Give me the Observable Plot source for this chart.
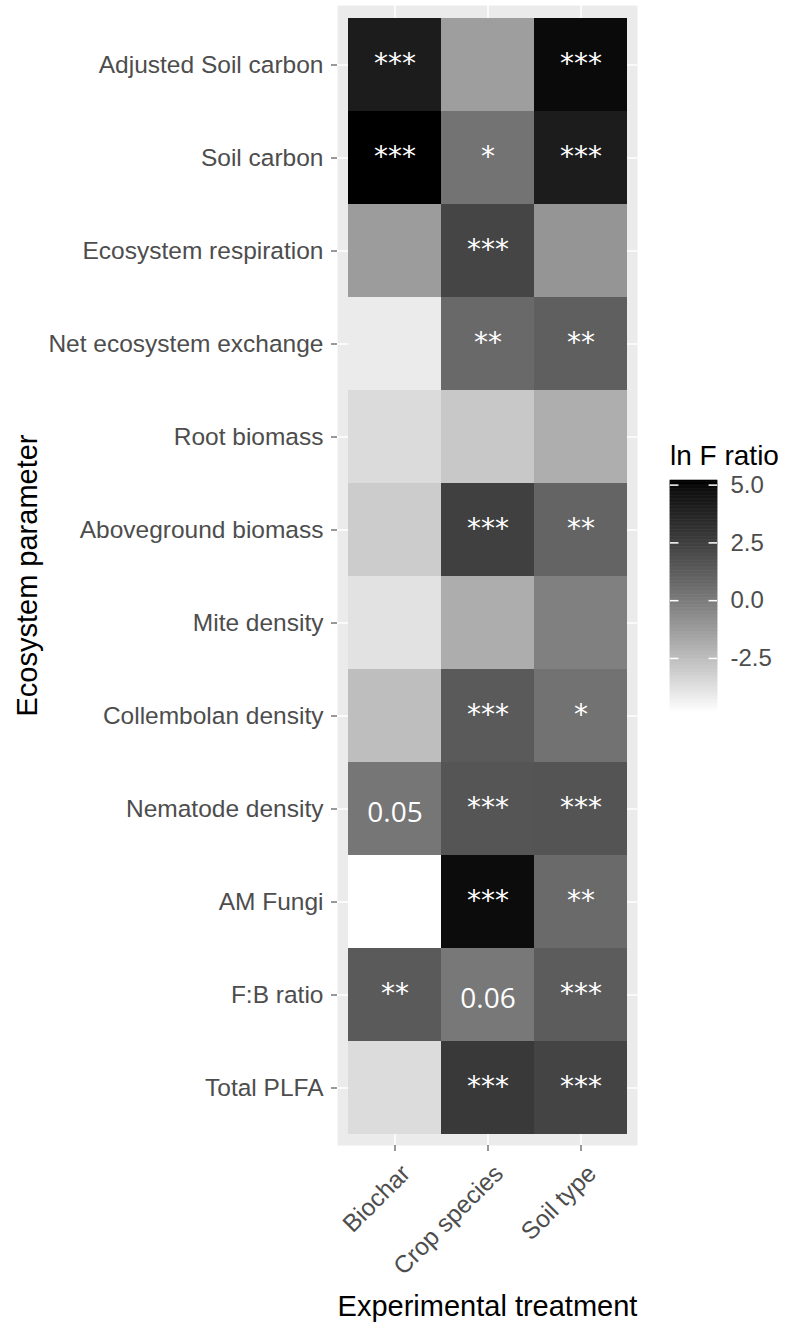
<!DOCTYPE html>
<html>
<head>
<meta charset="utf-8">
<script src="https://cdn.jsdelivr.net/npm/d3@7"></script>
<script src="https://cdn.jsdelivr.net/npm/@observablehq/plot@0.6"></script>
<style>
  html, body { margin: 0; padding: 0; background: white; }
  #wrap { position: relative; width: 787px; height: 1327px; font-family: "Liberation Sans", Arial, sans-serif; }
  #main { position: absolute; left: 0; top: 0; }
  #legend { position: absolute; left: 660px; top: 430px; }
  #legendTitle { position: absolute; left: 670px; top: 442px; font-size: 28px; color: #000; white-space: nowrap; line-height: 1; }
</style>
</head>
<body>
<div id="wrap">
  <div id="main"></div>
  <div id="legendTitle">ln F ratio</div>
  <div id="legend"></div>
</div>
<script>
// ---- Data ----
const parameters = [
  "Adjusted Soil carbon", "Soil carbon", "Ecosystem respiration", "Net ecosystem exchange",
  "Root biomass", "Aboveground biomass", "Mite density", "Collembolan density",
  "Nematode density", "AM Fungi", "F:B ratio", "Total PLFA"
];
const treatments = ["Biochar", "Crop species", "Soil type"];

// ln F ratio per treatment, in the order of `parameters`
const biocharF = [4.17, 5.20, -1.26, -4.14, -3.56, -3.03, -3.83, -2.53, 0.20, -4.84, 1.36, -3.60];
const cropF    = [-1.34, 0.32, 2.28, 0.73, -2.89, 2.48, -1.89, 1.36, 1.57, 4.86, 0.12, 2.81];
const soilF    = [4.93, 4.17, -0.99, 1.15, -1.93, 0.94, -0.18, 0.36, 1.61, 0.68, 1.28, 2.32];

// significance labels per treatment
const biocharSig = ["***", "***", "", "", "", "", "", "", "0.05", "", "**", ""];
const cropSig    = ["", "*", "***", "**", "", "***", "", "***", "***", "***", "0.06", "***"];
const soilSig    = ["***", "***", "", "**", "", "**", "", "*", "***", "**", "***", "***"];

const legendTicks = [-2.5, 0, 2.5, 5];

// ---- Build table ----
const valueArrays = [biocharF, cropF, soilF];
const sigArrays = [biocharSig, cropSig, soilSig];
const cells = [];
treatments.forEach((t, j) => {
  parameters.forEach((p, i) => {
    cells.push({treatment: t, parameter: p, value: valueArrays[j][i], sig: sigArrays[j][i]});
  });
});
const starCells = cells.filter(d => d.sig.startsWith("*"));
const numCells = cells.filter(d => d.sig !== "" && !d.sig.startsWith("*"));
const vmin = d3.min(cells, d => d.value);
const vmax = d3.max(cells, d => d.value);

const colorScale = {type: "linear", domain: [vmin, vmax], range: ["white", "black"], interpolate: "lab"};

const main = Plot.plot({
  width: 787,
  height: 1327,
  marginLeft: 337,
  marginRight: 150,
  marginTop: 5,
  marginBottom: 182,
  style: {fontFamily: "'Liberation Sans', Arial, sans-serif", background: "white", overflow: "visible"},
  x: {domain: treatments, padding: 0, inset: 10},
  y: {domain: parameters, padding: 0, insetTop: 9, insetBottom: 8},
  color: colorScale,
  marks: [
    Plot.frame({fill: "#EBEBEB", stroke: "none"}),
    Plot.gridX({stroke: "white", strokeOpacity: 1, strokeWidth: 1.5}),
    Plot.gridY({stroke: "white", strokeOpacity: 1, strokeWidth: 1.5}),
    Plot.cell(cells, {x: "treatment", y: "parameter", fill: "value"}),
    Plot.text(starCells, {x: "treatment", y: "parameter", text: "sig", fill: "white",
      fontFamily: "'DejaVu Sans', sans-serif", fontSize: 28, dy: -1}),
    Plot.text(numCells, {x: "treatment", y: "parameter", text: "sig", fill: "white",
      fontFamily: "'Open Sans', sans-serif", fontSize: 28, dy: 4}),
    // x ticks only
    Plot.axisX({tickSize: 6, tickFormat: () => "", color: "#333", label: null}),
    // x tick labels, rotated
    Plot.axisX({tickRotate: -45, tickSize: 0, tickPadding: 10, fontSize: 24.5, fill: "#4D4D4D", label: null, dx: 11, dy: 14}),
    Plot.axisX({ticks: [], label: "Experimental treatment", labelAnchor: "center", labelArrow: "none", labelOffset: 170, fontSize: 29, fill: "black"}),
    Plot.axisY({tickSize: 6, tickPadding: 8, fontSize: 24.5, color: "#333", fill: "#4D4D4D", label: null}),
    Plot.axisY({ticks: [], label: "Ecosystem parameter", labelAnchor: "center", labelArrow: "none", labelOffset: 321, fontSize: 29, fill: "black"})
  ]
});
document.getElementById("main").appendChild(main);

// ---- Vertical colour-bar legend ----
const nbin = 300;
const step = (vmax - vmin) / nbin;
const bins = d3.range(nbin).map(i => ({v0: vmin + i * step, v1: vmin + (i + 1) * step, v: vmin + (i + 0.5) * step}));
const fmt = d3.format(".1f");
const legend = Plot.plot({
  width: 127,
  height: 300,
  marginLeft: 10,
  marginRight: 70,
  marginTop: 50,
  marginBottom: 18,
  style: {fontFamily: "'Liberation Sans', Arial, sans-serif", background: "transparent", overflow: "visible"},
  x: {domain: [0, 1], axis: null},
  y: {domain: [vmin, vmax]},
  color: colorScale,
  marks: [
    Plot.rect(bins, {x1: 0, x2: 1, y1: "v0", y2: "v1", fill: "v", inset: -0.3}),
    Plot.ruleY(legendTicks, {x1: 0, x2: 0.18, stroke: "white", strokeWidth: 1.5}),
    Plot.ruleY(legendTicks, {x1: 0.82, x2: 1, stroke: "white", strokeWidth: 1.5}),
    Plot.axisY({anchor: "right", ticks: legendTicks, tickFormat: d => fmt(d).replace("\u2212", "-"), tickSize: 0, tickPadding: 13, fontSize: 24, fill: "#4D4D4D", label: null})
  ]
});
document.getElementById("legend").appendChild(legend);
</script>
</body>
</html>
